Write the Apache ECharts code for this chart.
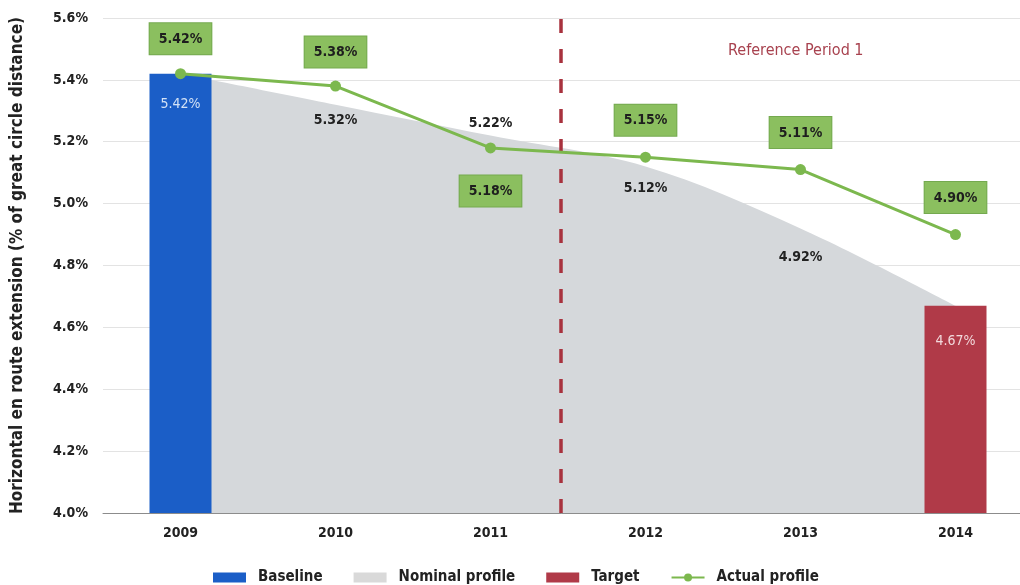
<!DOCTYPE html>
<html><head><meta charset="utf-8">
<script src="https://cdn.jsdelivr.net/npm/echarts@6/dist/echarts.min.js"></script>
<style>html,body{margin:0;padding:0;background:#fff}#c{width:1020px;height:585px}</style>
</head><body><div id="c"></div>
<script>
// ---- data ----
const years = ['2009', '2010', '2011', '2012', '2013', '2014'];
const baseline = [5.42, '-', '-', '-', '-', '-'];
const target = ['-', '-', '-', '-', '-', 4.67];
const nominalProfile = [5.42, 5.32, 5.22, 5.12, 4.92, 4.67];
const actualProfile = [5.42, 5.38, 5.18, 5.15, 5.11, 4.90];
const referenceBoundary = 2.45; // position between 2011 and 2012 (category index units)
const yMin = 4.0, yMax = 5.6, yStep = 0.2;

// ---- label placement (style, not data) ----
const nominalLabelPos = [null, 'bottom', 'top', 'bottom', 'bottom', null];
const nominalLabelDist = [0, 9, 5, 15, 22, 0];
const actualLabelPos = ['top', 'top', 'bottom', 'top', 'top', 'top'];
const actualLabelDist = [14, 13, 22, 16, 16, 16];

const FONT = "'DejaVu Sans Condensed', 'Liberation Sans Narrow', 'DejaVu Sans', sans-serif";
const C_BLUE = '#1b5ec7', C_RED = '#b03a48', C_GREY = '#d5d8db', C_GREEN = '#7cb84e';

const chart = echarts.init(document.getElementById('c'), null, {renderer: 'canvas'});
const pct = v => v.toFixed(2) + '%';

const option = {
  backgroundColor: '#fff',
  animation: false,
  textStyle: {fontFamily: FONT},
  grid: {left: 103, top: 18, width: 930, height: 495, containLabel: false, outerBoundsMode: 'none'},
  xAxis: [{
    type: 'category', data: years, boundaryGap: true,
    axisLine: {show: true, lineStyle: {color: '#8c8c8c', width: 1}},
    axisTick: {show: false},
    axisLabel: {color: '#222', fontFamily: FONT, fontSize: 14, fontWeight: 'bold', margin: 13}
  }, {
    type: 'value', min: -0.5, max: 5.5, show: false
  }],
  yAxis: {
    type: 'value', min: yMin, max: yMax, interval: yStep,
    axisLine: {show: false}, axisTick: {show: false},
    splitLine: {show: true, lineStyle: {color: '#e3e3e3', width: 1}},
    axisLabel: {color: '#222', fontFamily: FONT, fontSize: 14, fontWeight: 'bold', margin: 15,
      formatter: v => v.toFixed(1) + '%'},
    name: 'Horizontal en route extension (% of great circle distance)',
    nameLocation: 'middle', nameGap: 77, nameRotate: 90,
    nameTextStyle: {color: '#222', fontFamily: FONT, fontSize: 17, fontWeight: 'bold'}
  },
  legend: {
    data: [
      {name: 'Baseline', icon: 'rect'},
      {name: 'Nominal profile', icon: 'rect', itemStyle: {color: '#d9d9d9'}},
      {name: 'Target', icon: 'rect'},
      {name: 'Actual profile'}
    ],
    top: 565, left: 208, itemWidth: 33, itemHeight: 10, itemGap: 31,
    textStyle: {color: '#222', fontFamily: FONT, fontSize: 15, fontWeight: 'bold', padding: [0, 0, 0, 7]}
  },
  graphic: [{
    type: 'text', left: 728, top: 43,
    style: {text: 'Reference Period 1', fill: '#a8424f', font: "16px " + FONT}
  }],
  series: [
    {
      name: 'Nominal profile', type: 'line', z: 1, smooth: 0.35,
      data: nominalProfile.map((v, i) => ({
        value: v,
        label: nominalLabelPos[i] ? {show: true, position: nominalLabelPos[i], distance: nominalLabelDist[i]} : {show: false}
      })),
      showSymbol: true, symbol: 'circle', symbolSize: 0,
      lineStyle: {width: 0, color: C_GREY},
      itemStyle: {color: C_GREY},
      areaStyle: {color: C_GREY, opacity: 1, origin: 'start'},
      label: {show: true, formatter: p => pct(p.value), color: '#222', fontFamily: FONT, fontSize: 14, fontWeight: 'bold'},
      labelLayout: {hideOverlap: false}
    },
    {
      name: 'Baseline', type: 'bar', z: 3, barWidth: 62, barGap: '-100%',
      data: baseline, itemStyle: {color: C_BLUE},
      label: {show: true, position: 'insideTop', distance: 24, formatter: p => pct(p.value),
        color: '#d3e2f6', fontFamily: FONT, fontSize: 14}
    },
    {
      name: 'Target', type: 'bar', z: 3, barWidth: 62, barGap: '-100%',
      data: target, itemStyle: {color: C_RED},
      label: {show: true, position: 'insideTop', distance: 29, formatter: p => pct(p.value),
        color: '#f2d9dc', fontFamily: FONT, fontSize: 14}
    },
    {
      name: 'Actual profile', type: 'line', z: 5,
      data: actualProfile.map((v, i) => ({
        value: v, label: {position: actualLabelPos[i], distance: actualLabelDist[i]}
      })),
      symbol: 'circle', symbolSize: 11,
      lineStyle: {color: C_GREEN, width: 3},
      itemStyle: {color: C_GREEN},
      label: {show: true, formatter: p => pct(p.value), color: '#1e1e1e', fontFamily: FONT,
        fontSize: 14, fontWeight: 'bold', backgroundColor: '#8bbf5f', borderColor: '#74a94f',
        borderWidth: 1, padding: [9, 9, 8, 9]}
    },
    {
      name: 'divider', type: 'line', xAxisIndex: 1, silent: true,
      data: [[referenceBoundary, yMin]], symbol: 'none', lineStyle: {width: 0},
      markLine: {
        silent: true, symbol: 'none', animation: false,
        lineStyle: {color: '#a8323e', width: 3.5, type: [14, 16]},
        label: {show: false},
        data: [[{coord: [referenceBoundary, yMin]}, {coord: [referenceBoundary, yMax]}]]
      }
    }
  ]
};
chart.setOption(option);
</script>
</body></html>
